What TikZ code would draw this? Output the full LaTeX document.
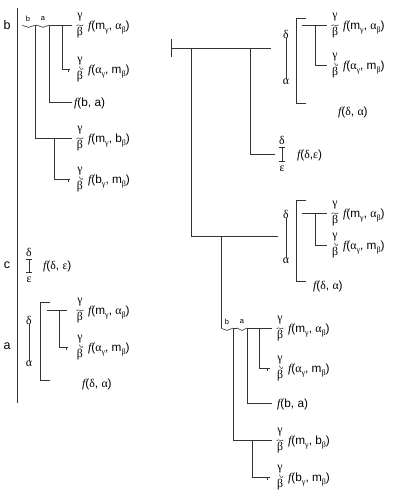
\documentclass[tikz,border=0pt]{standalone}
\usepackage{fontspec}
\setmainfont{Liberation Sans}
\newfontfamily\grk{Liberation Serif}
\usetikzlibrary{decorations.pathreplacing}
\newcommand\lo[1]{\raisebox{-0.5ex}{\fontsize{8}{9}\selectfont\grk #1}}
\newcommand\ff{{\grk\itshape f}}
\tikzset{
  ln/.style={draw=black!80, line width=0.7pt},
  wv/.style={draw=black!80, line width=0.5pt},
  brc/.style={draw=black!80, line width=0.6pt, decorate, decoration={brace, amplitude=2.5pt, mirror}},
  txt/.style={inner sep=0pt, anchor=base west, font=\fontsize{11.8}{14}\selectfont},
  gr/.style={inner sep=0pt, font=\fontsize{11.8}{14}\selectfont\grk},
  lab/.style={inner sep=0pt, font=\fontsize{12.5}{15}\selectfont},
  sml/.style={inner sep=0pt, font=\fontsize{7.5}{8}\selectfont},
}
% gamma over wavy bar over beta
\newcommand\gbw[3]{%
  \node[gr] (#1g) at (#2,#3-7.5) {γ};
  \node[gr] (#1b) at (#2,#3+7.5) {β};
  \draw[wv] (#2-3.5,#3+0.8) .. controls (#2-1.5,#3-2.2) and (#2+1.5,#3+3) .. (#2+3.5,#3-0.2);
}
% gamma with hook over beta
\newcommand\gbh[3]{%
  \node[gr] (#1g) at (#2,#3-7.5) {γ};
  \node[gr] (#1b) at (#2,#3+7.5) {β};
  \draw[wv] (#2-0.5,#3-2.5) .. controls (#2,#3+1) and (#2+2.5,#3+1.5) .. (#2+3,#3-1.2);
}
\begin{document}
\begin{tikzpicture}[x=1pt,y=-1pt]
\useasboundingbox (0,0) rectangle (410,496);

% ================= LEFT =================
\node[lab] (Lb) at (7,25) {b};
\node[lab] (Lc) at (7,265) {c};
\node[lab] (La) at (7,346) {a};
\coordinate (Ltop) at (17,8);
\coordinate (Lbot) at (17,403);
\draw[ln] (Ltop) -- (Lbot);

% top-left tree
\coordinate (Tb0) at (22,25); \coordinate (Tb1) at (35,25);
\coordinate (Ta0) at (37,25); \coordinate (Ta1) at (49,25);
\coordinate (Tend) at (72,25);
\node[sml] (tsb) at (28,19) {b};
\node[sml] (tsa) at (43,19) {a};
\draw[brc] (Tb0) -- (Tb1);
\draw[brc] (Ta0) -- (Ta1);
\draw[ln] (Tb1) -- (Ta0);
\draw[ln] (Ta1) -- (Tend);
\coordinate (T2j) at (62,25); \coordinate (T2c) at (62,69); \coordinate (T2e) at (70,69);
\draw[ln] (T2j) -- (T2c) -- (T2e);
\draw[ln] (68,69) -- (68,72);
\coordinate (T3c) at (49,102); \coordinate (T3e) at (72,102);
\draw[ln] (Ta1) -- (T3c) -- (T3e);
\coordinate (T4c) at (35,138); \coordinate (T4e) at (72,138);
\draw[ln] (Tb1) -- (T4c) -- (T4e);
\coordinate (T5j) at (54,138); \coordinate (T5c) at (54,179); \coordinate (T5e) at (70,179);
\draw[ln] (T5j) -- (T5c) -- (T5e);
\draw[ln] (68,179) -- (68,182);

\gbw{L1}{80}{25}
\node[txt] (L1t) at (88,29) {\ff(m\lo{γ}, {\grk α}\lo{β})};
\gbh{L2}{80}{69}
\node[txt] (L2t) at (88,73) {\ff({\grk α}\lo{γ}, m\lo{β})};
\node[txt] (L3t) at (74,106) {\ff(b, a)};
\gbw{L4}{80}{138}
\node[txt] (L4t) at (88,142) {\ff(m\lo{γ}, b\lo{β})};
\gbh{L5}{80}{179}
\node[txt] (L5t) at (88,183) {\ff(b\lo{γ}, m\lo{β})};

% c
\node[gr] (cd) at (29,252) {δ};
\node[gr] (ce) at (29,280) {ε};
\draw[ln] (29,259) -- (29,272);
\draw[ln] (26,259) -- (32,259);
\draw[ln] (26,272) -- (32,272);
\node[txt] (ct) at (43,269) {\ff({\grk δ}, {\grk ε})};

% a block
\node[gr] (ad) at (29,320) {δ};
\node[gr] (aa) at (29,364) {α};
\draw[ln] (ad) -- (aa);
\draw[ln] (50,302) -- (40,302) -- (40,380) -- (50,380);
\draw[ln] (47,310) -- (67,310);
\draw[ln] (59,310) -- (59,347) -- (68,347);
\draw[ln] (66,347) -- (66,350);
\gbw{A1}{80}{310}
\node[txt] (A1t) at (88,314) {\ff(m\lo{γ}, {\grk α}\lo{β})};
\gbh{A2}{80}{347}
\node[txt] (A2t) at (88,351) {\ff({\grk α}\lo{γ}, m\lo{β})};
\node[txt] (A3t) at (82,387) {\ff({\grk δ}, {\grk α})};

% ================= RIGHT =================
\coordinate (R0) at (171,48);
\coordinate (Rj1) at (191,48);
\coordinate (Rj2) at (250,48);
\coordinate (Rend) at (271,48);
\draw[ln] (171,39) -- (171,57);
\draw[ln] (R0) -- (Rend);
\coordinate (Rm0) at (191,236); \coordinate (Rm1) at (221,236); \coordinate (Rmend) at (278,236);
\draw[ln] (Rj1) -- (Rm0) -- (Rmend);
\coordinate (Re0) at (250,154); \coordinate (Reend) at (275,154);
\draw[ln] (Rj2) -- (Re0) -- (Reend);

% f(delta,eps)
\node[gr] (rd) at (282,140) {δ};
\node[gr] (re) at (282,169) {ε};
\draw[ln] (282,147) -- (282,161);
\draw[ln] (279,147) -- (285,147);
\draw[ln] (279,161) -- (285,161);
\node[txt] (ret) at (297,158) {\ff({\grk δ},{\grk ε})};

% block 1
\node[gr] (b1d) at (286,34) {δ};
\node[gr] (b1a) at (286,82) {α};
\draw[ln] (b1d) -- (b1a);
\draw[ln] (306,18) -- (296,18) -- (296,103) -- (306,103);
\draw[ln] (302,25) -- (327,25);
\draw[ln] (315,25) -- (315,65) -- (327,65);
\gbw{B1}{335}{25}
\node[txt] (B1t) at (343,29) {\ff(m\lo{γ}, {\grk α}\lo{β})};
\gbh{B2}{335}{65}
\node[txt] (B2t) at (343,69) {\ff({\grk α}\lo{γ}, m\lo{β})};
\node[txt] (B3t) at (338,115) {\ff({\grk δ}, {\grk α})};

% block 3
\node[gr] (b3d) at (286,214) {δ};
\node[gr] (b3a) at (286,261) {α};
\draw[ln] (b3d) -- (b3a);
\draw[ln] (306,200) -- (296,200) -- (296,281) -- (306,281);
\draw[ln] (302,213) -- (327,213);
\draw[ln] (315,213) -- (315,245) -- (327,245);
\gbw{C1}{335}{213}
\node[txt] (C1t) at (343,217) {\ff(m\lo{γ}, {\grk α}\lo{β})};
\gbh{C2}{335}{245}
\node[txt] (C2t) at (343,249) {\ff({\grk α}\lo{γ}, m\lo{β})};
\node[txt] (C3t) at (313,289) {\ff({\grk δ}, {\grk α})};

% block 4
\coordinate (Db0) at (221,328); \coordinate (Db1) at (233,328);
\coordinate (Da0) at (237,328); \coordinate (Da1) at (247,328);
\coordinate (Dend) at (272,328);
\draw[ln] (Rm1) -- (Db0);
\node[sml] (dsb) at (227,322) {b};
\node[sml] (dsa) at (242,322) {a};
\draw[brc] (Db0) -- (Db1);
\draw[brc] (Da0) -- (Da1);
\draw[ln] (Db1) -- (Da0);
\draw[ln] (Da1) -- (Dend);
\coordinate (D2j) at (259,328); \coordinate (D2c) at (259,368); \coordinate (D2e) at (270,368);
\draw[ln] (D2j) -- (D2c) -- (D2e);
\draw[ln] (267,368) -- (267,371);
\coordinate (D3c) at (247,403); \coordinate (D3e) at (272,403);
\draw[ln] (Da1) -- (D3c) -- (D3e);
\coordinate (D4c) at (233,440); \coordinate (D4e) at (272,440);
\draw[ln] (Db1) -- (D4c) -- (D4e);
\coordinate (D5j) at (252,440); \coordinate (D5c) at (252,477); \coordinate (D5e) at (270,477);
\draw[ln] (D5j) -- (D5c) -- (D5e);
\draw[ln] (267,477) -- (267,480);

\gbw{E1}{280}{328}
\node[txt] (E1t) at (288,332) {\ff(m\lo{γ}, {\grk α}\lo{β})};
\gbh{E2}{280}{368}
\node[txt] (E2t) at (288,372) {\ff({\grk α}\lo{γ}, m\lo{β})};
\node[txt] (E3t) at (277,407) {\ff(b, a)};
\gbw{E4}{280}{440}
\node[txt] (E4t) at (288,444) {\ff(m\lo{γ}, b\lo{β})};
\gbh{E5}{280}{477}
\node[txt] (E5t) at (288,481) {\ff(b\lo{γ}, m\lo{β})};
\end{tikzpicture}
\end{document}
